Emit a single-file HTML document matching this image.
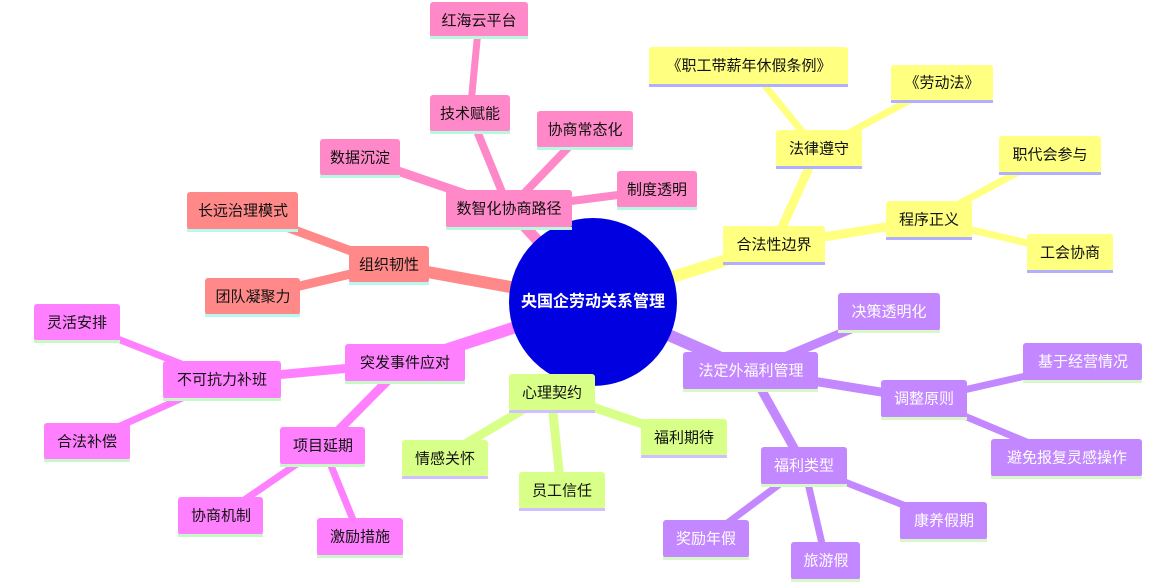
<!DOCTYPE html>
<html><head><meta charset="utf-8"><style>
html,body{margin:0;padding:0;background:#fff;width:1156px;height:587px;overflow:hidden}
text{font-family:"Liberation Sans","Noto Sans CJK SC",sans-serif;font-size:15px;text-anchor:middle;dominant-baseline:central}
</style></head><body>
<svg width="1156" height="587" viewBox="0 0 1156 587" xmlns="http://www.w3.org/2000/svg">
<g stroke-linecap="butt" fill="none">
<!-- pink -->
<g stroke="#ff88c8">
<line x1="593" y1="302" x2="509" y2="209" stroke-width="11"/>
<line x1="509" y1="209" x2="360" y2="158" stroke-width="9"/>
<line x1="509" y1="209" x2="470" y2="114" stroke-width="8"/>
<line x1="509" y1="209" x2="585" y2="130" stroke-width="8"/>
<line x1="509" y1="209" x2="657" y2="190" stroke-width="8"/>
<line x1="470" y1="114" x2="479" y2="20" stroke-width="7"/>
</g>
<g stroke="#ff8888">
<line x1="593" y1="302" x2="389" y2="265" stroke-width="12"/>
<line x1="389" y1="265" x2="243" y2="211" stroke-width="9"/>
<line x1="389" y1="265" x2="253" y2="297" stroke-width="9"/>
</g>
<g stroke="#ffff80">
<line x1="593" y1="302" x2="774" y2="245" stroke-width="12"/>
<line x1="774" y1="245" x2="817" y2="150" stroke-width="9"/>
<line x1="774" y1="245" x2="929" y2="220" stroke-width="9"/>
<line x1="817" y1="150" x2="749" y2="66" stroke-width="7"/>
<line x1="817" y1="150" x2="942" y2="83" stroke-width="7"/>
<line x1="929" y1="220" x2="1050" y2="155" stroke-width="7"/>
<line x1="929" y1="220" x2="1070" y2="253" stroke-width="7"/>
</g>
<g stroke="#c387ff">
<line x1="593" y1="302" x2="751" y2="371" stroke-width="12"/>
<line x1="751" y1="371" x2="889" y2="313" stroke-width="9"/>
<line x1="751" y1="371" x2="924" y2="399" stroke-width="9"/>
<line x1="751" y1="371" x2="804" y2="466" stroke-width="9"/>
<line x1="924" y1="399" x2="1083" y2="363" stroke-width="7"/>
<line x1="924" y1="399" x2="1067" y2="459" stroke-width="7"/>
<line x1="804" y1="466" x2="944" y2="521" stroke-width="7"/>
<line x1="804" y1="466" x2="706" y2="539" stroke-width="7"/>
<line x1="804" y1="466" x2="826" y2="561" stroke-width="7"/>
</g>
<g stroke="#d8ff88">
<line x1="593" y1="302" x2="551" y2="393" stroke-width="12"/>
<line x1="551" y1="393" x2="445" y2="456" stroke-width="9"/>
<line x1="551" y1="393" x2="561" y2="491" stroke-width="9"/>
<line x1="551" y1="393" x2="684" y2="438" stroke-width="9"/>
</g>
<g stroke="#ff80ff">
<line x1="593" y1="302" x2="405" y2="363" stroke-width="12"/>
<line x1="405" y1="363" x2="222" y2="380" stroke-width="9"/>
<line x1="405" y1="363" x2="323" y2="446" stroke-width="9"/>
<line x1="222" y1="380" x2="77" y2="323" stroke-width="7"/>
<line x1="222" y1="380" x2="87" y2="441" stroke-width="7"/>
<line x1="323" y1="446" x2="221" y2="516" stroke-width="7"/>
<line x1="323" y1="446" x2="360" y2="537" stroke-width="7"/>
</g>
</g>
<circle cx="593" cy="302" r="84" fill="#0000e0"/>
<text x="593" y="302" fill="#fff" font-size="16" style="font-size:16px;font-weight:bold">央国企劳动关系管理</text>

<g id="nodes">
<!-- helper pattern: rect + underline + text -->
<!-- pink -->
<g fill="#ff88c8"><rect x="430" y="2" width="98" height="36" rx="3"/><rect x="430" y="95" width="80" height="37" rx="3"/><rect x="537" y="111" width="96" height="37" rx="3"/><rect x="320" y="139" width="80" height="37" rx="3"/><rect x="446" y="190" width="126" height="38" rx="3"/><rect x="617" y="171" width="80" height="37" rx="3"/></g>
<g fill="#b8f8e0"><rect x="430" y="36" width="98" height="3"/><rect x="430" y="131" width="80" height="3"/><rect x="537" y="147" width="96" height="3"/><rect x="320" y="175" width="80" height="3"/><rect x="446" y="227" width="126" height="3"/><rect x="617" y="207" width="80" height="3"/></g>
<!-- salmon -->
<g fill="#ff8888"><rect x="187" y="192" width="111" height="38" rx="3"/><rect x="349" y="246" width="80" height="37" rx="3"/><rect x="205" y="278" width="95" height="37" rx="3"/></g>
<g fill="#b8f8f0"><rect x="187" y="229" width="111" height="3"/><rect x="349" y="282" width="80" height="3"/><rect x="205" y="314" width="95" height="3"/></g>
<!-- yellow -->
<g fill="#ffff80"><rect x="649" y="47" width="199" height="38" rx="3"/><rect x="891" y="65" width="102" height="36" rx="3"/><rect x="776" y="130" width="86" height="37" rx="3"/><rect x="723" y="226" width="102" height="37" rx="3"/><rect x="886" y="201" width="86" height="37" rx="3"/><rect x="999" y="136" width="102" height="37" rx="3"/><rect x="1027" y="234" width="86" height="37" rx="3"/></g>
<g fill="#b0b0ff"><rect x="649" y="84" width="199" height="3"/><rect x="891" y="100" width="102" height="3"/><rect x="776" y="166" width="86" height="3"/><rect x="723" y="262" width="102" height="3"/><rect x="886" y="237" width="86" height="3"/><rect x="999" y="172" width="102" height="3"/><rect x="1027" y="270" width="86" height="3"/></g>
<!-- purple -->
<g fill="#c387ff"><rect x="838" y="293" width="102" height="38" rx="3"/><rect x="683" y="352" width="135" height="38" rx="3"/><rect x="881" y="380" width="86" height="38" rx="3"/><rect x="1023" y="343" width="119" height="38" rx="3"/><rect x="991" y="439" width="151" height="38" rx="3"/><rect x="761" y="447" width="86" height="38" rx="3"/><rect x="900" y="502" width="87" height="38" rx="3"/><rect x="663" y="520" width="86" height="38" rx="3"/><rect x="791" y="542" width="69" height="38" rx="3"/></g>
<g fill="#d8f8c8"><rect x="838" y="330" width="102" height="3"/><rect x="683" y="389" width="135" height="3"/><rect x="881" y="417" width="86" height="3"/><rect x="1023" y="380" width="119" height="3"/><rect x="991" y="476" width="151" height="3"/><rect x="761" y="484" width="86" height="3"/><rect x="900" y="539" width="87" height="3"/><rect x="663" y="557" width="86" height="3"/><rect x="791" y="579" width="69" height="3"/></g>
<!-- green -->
<g fill="#d8ff88"><rect x="509" y="374" width="86" height="37" rx="3"/><rect x="402" y="440" width="86" height="37" rx="3"/><rect x="519" y="472" width="86" height="37" rx="3"/><rect x="641" y="419" width="86" height="37" rx="3"/></g>
<g fill="#d0c0ff"><rect x="509" y="410" width="86" height="3"/><rect x="402" y="476" width="86" height="3"/><rect x="519" y="508" width="86" height="3"/><rect x="641" y="455" width="86" height="3"/></g>
<!-- magenta -->
<g fill="#ff80ff"><rect x="345" y="344" width="120" height="38" rx="3"/><rect x="163" y="361" width="118" height="38" rx="3"/><rect x="34" y="304" width="86" height="37" rx="3"/><rect x="44" y="423" width="86" height="37" rx="3"/><rect x="280" y="427" width="85" height="38" rx="3"/><rect x="178" y="497" width="85" height="38" rx="3"/><rect x="317" y="518" width="86" height="38" rx="3"/></g>
<g fill="#c8f8c8"><rect x="345" y="381" width="120" height="3"/><rect x="163" y="398" width="118" height="3"/><rect x="34" y="340" width="86" height="3"/><rect x="44" y="459" width="86" height="3"/><rect x="280" y="464" width="85" height="3"/><rect x="178" y="534" width="85" height="3"/><rect x="317" y="555" width="86" height="3"/></g>
</g>

<g fill="#111">
<text x="479" y="21">红海云平台</text>
<text x="470" y="114">技术赋能</text>
<text x="585" y="130">协商常态化</text>
<text x="360" y="158">数据沉淀</text>
<text x="509" y="209">数智化协商路径</text>
<text x="657" y="190">制度透明</text>
<text x="243" y="211">长远治理模式</text>
<text x="389" y="265">组织韧性</text>
<text x="253" y="297">团队凝聚力</text>
<text x="749" y="66">《职工带薪年休假条例》</text>
<text x="942" y="83">《劳动法》</text>
<text x="819" y="149">法律遵守</text>
<text x="774" y="245">合法性边界</text>
<text x="929" y="220">程序正义</text>
<text x="1050" y="155">职代会参与</text>
<text x="1070" y="253">工会协商</text>
<text x="552" y="393">心理契约</text>
<text x="445" y="459">情感关怀</text>
<text x="562" y="491">员工信任</text>
<text x="684" y="438">福利期待</text>
<text x="405" y="363">突发事件应对</text>
<text x="222" y="380">不可抗力补班</text>
<text x="77" y="323">灵活安排</text>
<text x="87" y="442">合法补偿</text>
<text x="323" y="446">项目延期</text>
<text x="221" y="516">协商机制</text>
<text x="360" y="537">激励措施</text>
</g>
<g fill="#fff">
<text x="889" y="312">决策透明化</text>
<text x="751" y="371">法定外福利管理</text>
<text x="924" y="399">调整原则</text>
<text x="1083" y="362">基于经营情况</text>
<text x="1067" y="458">避免报复灵感操作</text>
<text x="804" y="466">福利类型</text>
<text x="944" y="521">康养假期</text>
<text x="706" y="539">奖励年假</text>
<text x="826" y="561">旅游假</text>
</g>
</svg>
</body></html>
